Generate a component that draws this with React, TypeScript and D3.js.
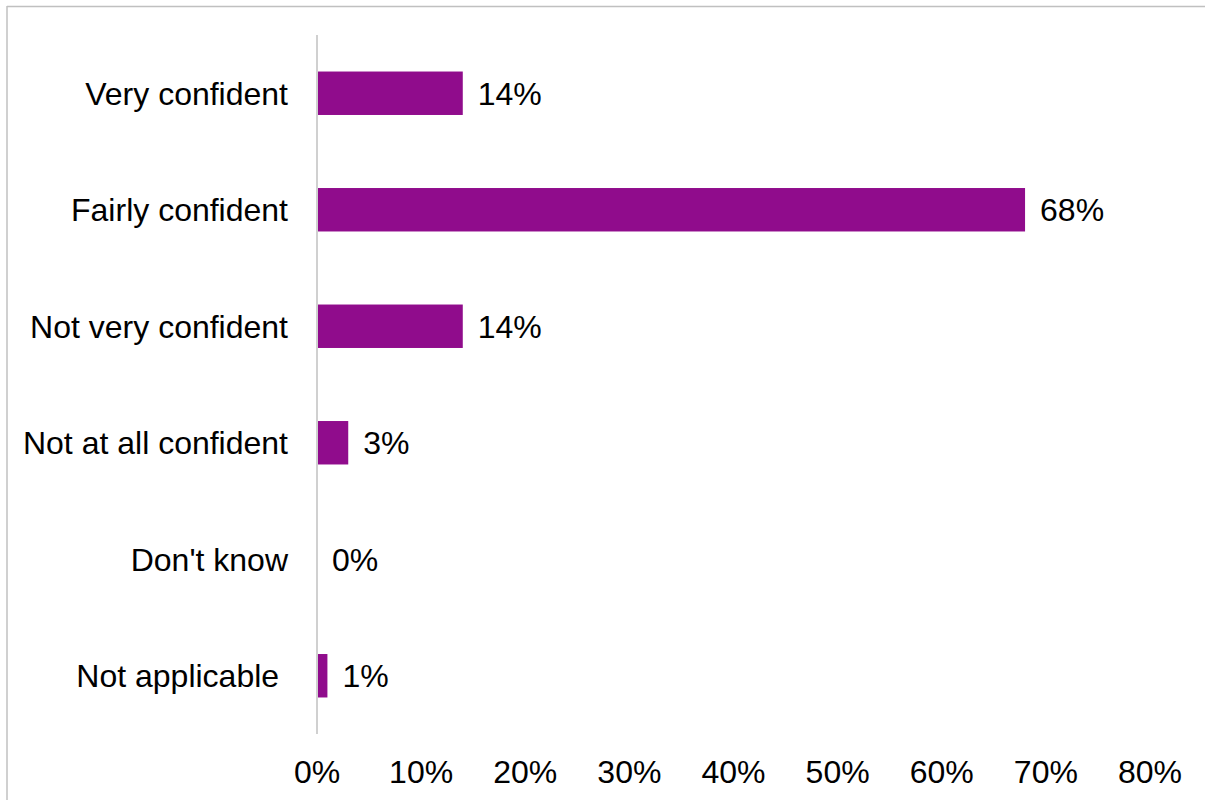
import React from "react";
import * as d3 from "d3";

const categories = [
  "Very confident",
  "Fairly confident",
  "Not very confident",
  "Not at all confident",
  "Don't know",
  "Not applicable ",
];
const values = [0.14, 0.68, 0.14, 0.03, 0.0, 0.01];
const ticks = [0, 0.1, 0.2, 0.3, 0.4, 0.5, 0.6, 0.7, 0.8];

const W = 1205;
const H = 800;
const FONT = "'Liberation Sans', Arial, sans-serif";
const BAR = "#900c8c";

export default function App() {
  const x = d3.scaleLinear().domain([0, 0.8]).range([317, 1150]);
  const y = d3.scaleBand<string>().domain(categories).range([35, 734]).padding(0);
  const barH = y.bandwidth() * 0.373;
  const fmt = d3.format(".0%");
  const fs = 32;

  return (
    <svg
      width={W}
      height={H}
      style={{ position: "absolute", left: 0, top: 0, background: "#fff" }}
      fontFamily={FONT}
    >
      <rect x={0} y={0} width={W} height={H} fill="#fff" />
      <line x1={7} y1={6.5} x2={W} y2={6.5} stroke="#c0c0c0" strokeWidth={1.5} />
      <line x1={7} y1={6} x2={7} y2={H} stroke="#c0c0c0" strokeWidth={1.5} />

      {categories.map((c, i) => {
        const cy = (y(c) ?? 0) + y.bandwidth() / 2;
        const v = values[i];
        return (
          <g key={c}>
            {v > 0 && (
              <rect x={x(0)} y={cy - barH / 2} width={x(v) - x(0)} height={barH} fill={BAR} />
            )}
            <text
              x={x(v) + 15}
              y={cy}
              dy="0.36em"
              fontSize={fs}
              fill="#000"
            >
              {fmt(v)}
            </text>
            <text
              x={288}
              y={cy}
              dy="0.36em"
              fontSize={fs}
              fill="#000"
              textAnchor="end"
              style={{ whiteSpace: "pre" }}
            >
              {c}
            </text>
          </g>
        );
      })}

      <line x1={x(0)} y1={35} x2={x(0)} y2={734} stroke="#d0d0d0" strokeWidth={2} />

      {ticks.map((t) => (
        <text key={t} x={x(t)} y={783} fontSize={fs} textAnchor="middle" fill="#000">
          {fmt(t)}
        </text>
      ))}
    </svg>
  );
}
